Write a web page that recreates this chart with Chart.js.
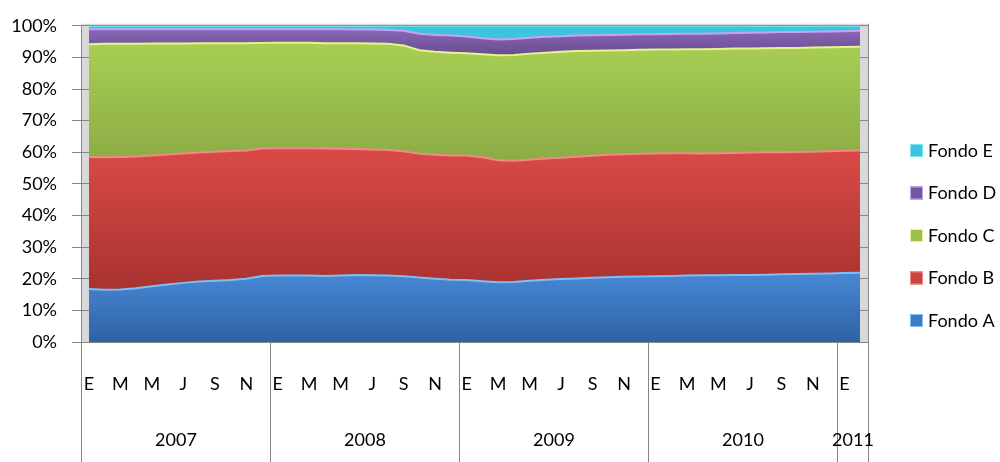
<!DOCTYPE html>
<html>
<head>
<meta charset="utf-8">
<script src="https://cdn.jsdelivr.net/npm/chart.js@4.4.0/dist/chart.umd.min.js"></script>
<style>
    html, body { margin: 0; padding: 0; background: #fff; }
    #wrap { width: 1000px; height: 462px; }
</style>
</head>
<body>
<div id="wrap"><canvas id="fondosChart" width="1000" height="462"></canvas></div>
<script>
// Months (E = enero ... D = diciembre), Jan 2007 - Feb 2011
const monthLabels = [
    "E","F","M","A","M","J","J","A","S","O","N","D",
    "E","F","M","A","M","J","J","A","S","O","N","D",
    "E","F","M","A","M","J","J","A","S","O","N","D",
    "E","F","M","A","M","J","J","A","S","O","N","D",
    "E","F"
];
const years = ["2007", "2008", "2009", "2010", "2011"];
const monthsPerYear = [12, 12, 12, 12, 2];
const yTicks = [0, 10, 20, 30, 40, 50, 60, 70, 80, 90, 100];

// Share of each fund (%)
const fondoA = [16.8,16.5,16.6,17.0,17.6,18.2,18.7,19.1,19.4,19.6,20.0,20.9,
                21.0,21.0,21.0,20.9,21.0,21.2,21.1,21.0,20.8,20.4,20.0,19.7,
                19.6,19.2,18.9,19.0,19.4,19.7,19.9,20.1,20.3,20.5,20.6,20.7,
                20.8,20.9,21.0,21.1,21.1,21.2,21.2,21.3,21.4,21.5,21.6,21.7,
                21.8,21.9];
const fondoB = [41.7,41.9,41.9,41.7,41.4,41.1,40.9,40.8,40.8,40.8,40.6,40.3,
                40.3,40.3,40.3,40.3,40.1,39.8,39.8,39.7,39.5,39.1,39.2,39.3,
                39.4,39.2,38.6,38.3,38.2,38.3,38.4,38.5,38.6,38.7,38.8,38.8,
                38.8,38.8,38.7,38.5,38.6,38.6,38.7,38.7,38.6,38.6,38.6,38.6,
                38.7,38.7];
const fondoC = [35.7,35.9,35.8,35.6,35.4,35.1,34.8,34.6,34.3,34.1,33.9,33.4,
                33.3,33.3,33.3,33.3,33.4,33.5,33.5,33.6,33.5,32.8,32.6,32.5,
                32.3,32.6,33.2,33.5,33.6,33.5,33.5,33.4,33.2,33.0,32.9,32.9,
                32.9,32.8,32.9,33.0,33.0,33.0,32.9,32.9,33.0,32.9,32.9,32.9,
                32.8,32.8];
const fondoD = [4.7,4.6,4.6,4.6,4.5,4.5,4.5,4.4,4.4,4.4,4.4,4.3,
                4.3,4.3,4.3,4.4,4.4,4.3,4.4,4.4,4.6,5.2,5.3,5.4,
                5.3,5.1,5.0,5.0,5.0,5.0,4.9,4.9,4.9,4.9,4.9,4.9,
                4.8,4.9,4.9,4.9,4.9,4.9,5.0,5.0,5.0,5.0,5.0,5.0,
                5.0,5.0];
const fondoE = [1.1,1.1,1.1,1.1,1.1,1.1,1.1,1.1,1.1,1.1,1.1,1.1,
                1.1,1.1,1.1,1.1,1.1,1.2,1.2,1.3,1.6,2.5,2.9,3.1,
                3.4,3.9,4.3,4.2,3.8,3.5,3.3,3.1,3.0,2.9,2.8,2.7,
                2.7,2.6,2.5,2.5,2.4,2.3,2.2,2.1,2.0,2.0,1.9,1.8,
                1.7,1.6];

const FONT = "Lato, 'Liberation Sans', sans-serif";
const GRID = "#868686";

// vertical shading for the bands (light on top, darker at the floor)
function shade(solid, light, dark, fromPct, toPct) {
    return context => {
        const { chart } = context;
        const y = chart.scales.y;
        if (!chart.chartArea || !y) return solid;
        const g = chart.ctx.createLinearGradient(0, y.getPixelForValue(fromPct), 0, y.getPixelForValue(toPct));
        g.addColorStop(0, light);
        g.addColorStop(1, dark);
        return g;
    };
}

// gray 3D wall, year groups and legend
const excelLook = {
    id: "excelLook",
    beforeDraw(chart) {
        const { ctx, chartArea: a } = chart;
        ctx.save();
        ctx.fillStyle = "#d9d9d9";
        ctx.fillRect(a.left, a.top - 2, a.right - a.left, a.bottom - a.top + 2);
        ctx.restore();
    },
    afterDraw(chart) {
        const { ctx, chartArea: a, scales: { x } } = chart;
        const half = (x.getPixelForValue(1) - x.getPixelForValue(0)) / 2;
        ctx.save();
        ctx.strokeStyle = GRID;
        ctx.lineWidth = 1;

        // bottom line of the category box
        ctx.beginPath();
        ctx.moveTo(a.left, a.bottom + 0.5);
        ctx.lineTo(a.right, a.bottom + 0.5);
        ctx.stroke();

        // right wall edge
        ctx.beginPath();
        ctx.moveTo(a.right + 0.5, a.top - 2);
        ctx.lineTo(a.right + 0.5, a.bottom);
        ctx.stroke();

        ctx.font = "18px " + FONT;
        ctx.fillStyle = "#000";
        ctx.textAlign = "center";
        ctx.textBaseline = "middle";

        let idx = 0;
        let prev = Math.round(x.getPixelForValue(0) - half) + 0.5;
        ctx.beginPath();
        ctx.moveTo(prev, a.bottom);
        ctx.lineTo(prev, 462);
        ctx.stroke();
        years.forEach((yr, i) => {
            idx += monthsPerYear[i];
            const edge = Math.round(x.getPixelForValue(idx - 1) + half) + 0.5;
            ctx.beginPath();
            ctx.moveTo(edge, a.bottom);
            ctx.lineTo(edge, 462);
            ctx.stroke();
            ctx.fillText(yr, (prev + edge) / 2, 440);
            prev = edge;
        });

        // legend (Fondo E on top)
        const sets = chart.data.datasets.slice().reverse();
        ctx.textAlign = "left";
        sets.forEach((ds, i) => {
            const y = 150 + i * 42.5;
            ctx.fillStyle = ds.solid;
            ctx.fillRect(910, y - 6, 13, 13);
            ctx.strokeStyle = ds.borderColor;
            ctx.strokeRect(910.5, y - 5.5, 12, 12);
            ctx.fillStyle = "#000";
            ctx.fillText(ds.label, 928, y + 1);
        });
        ctx.restore();
    }
};

const ctx = document.getElementById("fondosChart").getContext("2d");

new Chart(ctx, {
    type: "line",
    data: {
        labels: monthLabels,
        datasets: [
            { label: "Fondo A", data: fondoA, solid: "#3d7bc5", borderColor: "#80bdf2", fill: "origin",
              backgroundColor: shade("#3d7bc5", "#4788d6", "#2f62a4", 22, 0) },
            { label: "Fondo B", data: fondoB, solid: "#c94341", borderColor: "#f08a88", fill: "-1",
              backgroundColor: shade("#c94341", "#da4a47", "#a9332f", 61, 17) },
            { label: "Fondo C", data: fondoC, solid: "#9cc14c", borderColor: "#e4f490", fill: "-1",
              backgroundColor: shade("#9cc14c", "#a8cf53", "#8bac44", 95, 57) },
            { label: "Fondo D", data: fondoD, solid: "#7557a0", borderColor: "#c8a3ee", fill: "-1",
              backgroundColor: shade("#7557a0", "#8a68b6", "#654a8c", 99, 90) },
            { label: "Fondo E", data: fondoE, solid: "#3fc4dd", borderColor: "#7de6f6", fill: "-1",
              backgroundColor: "#3fc4dd" }
        ]
    },
    options: {
        responsive: false,
        animation: false,
        layout: { padding: { top: 23, right: 132, left: 0, bottom: 0 } },
        elements: {
            point: { radius: 0 },
            line: { borderWidth: 2, tension: 0 }
        },
        plugins: {
            legend: { display: false },
            tooltip: { enabled: false }
        },
        scales: {
            x: {
                offset: true,
                grid: { display: false },
                border: { display: false },
                ticks: {
                    autoSkip: false,
                    maxRotation: 0,
                    padding: 23,
                    color: "#000",
                    font: { family: FONT, size: 18 },
                    callback: (v, i) => (i % 2 === 0 ? monthLabels[i] : "")
                },
                afterFit: s => { s.height = 120; }
            },
            y: {
                stacked: true,
                min: 0,
                max: 100,
                grid: { color: GRID, tickLength: 9 },
                border: { color: GRID },
                ticks: {
                    stepSize: 10,
                    padding: 15,
                    color: "#000",
                    font: { family: FONT, size: 18 },
                    callback: v => (yTicks.includes(v) ? v + "%" : "")
                },
                afterFit: s => { s.width = 81; }
            }
        }
    },
    plugins: [excelLook]
});
</script>
</body>
</html>
